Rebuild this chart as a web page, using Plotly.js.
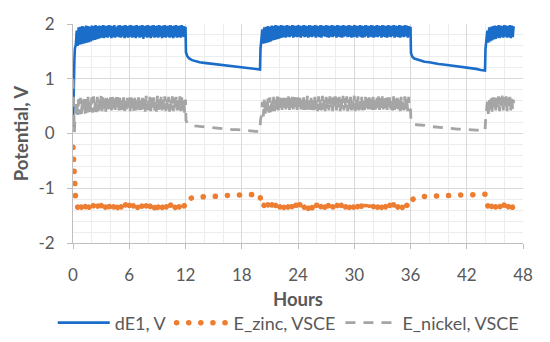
<!DOCTYPE html>
<html>
<head>
<meta charset="utf-8">
<script src="https://cdn.plot.ly/plotly-3.0.1.min.js"></script>
<style>
html,body{margin:0;padding:0;background:#fff;}
#chart{width:550px;height:342px;}
path.js-line[style*="rgb(237, 125, 49)"]{stroke-linecap:round;}
</style>
</head>
<body>
<div id="chart"></div>
<script>
// ---- Data (hours of test, potentials in V) ----
// Start-up of charge 1
const hoursStart1 = [0, 0.05, 0.1, 0.15, 0.2, 0.3];
const dE1Start1   = [0.12, 0.75, 1.05, 1.35, 1.55, 1.62];
const niStart1    = [1.0, 0.55, 0.05, 0.02, 0.25, 0.34];
const znStart1    = [-0.25, -0.4, -0.62, -0.9, -1.15, -1.27];

// Charge 1 (0.4 h - 12 h)
const hoursCharge1 = [
  0.4,0.5,0.6,0.7,0.8,0.9,
  1.0,1.1,1.2,1.3,1.4,1.5,1.6,1.7,1.8,1.9,
  2.0,2.1,2.2,2.3,2.4,2.5,2.6,2.7,2.8,2.9,
  3.0,3.1,3.2,3.3,3.4,3.5,3.6,3.7,3.8,3.9,
  4.0,4.1,4.2,4.3,4.4,4.5,4.6,4.7,4.8,4.9,
  5.0,5.1,5.2,5.3,5.4,5.5,5.6,5.7,5.8,5.9,
  6.0,6.1,6.2,6.3,6.4,6.5,6.6,6.7,6.8,6.9,
  7.0,7.1,7.2,7.3,7.4,7.5,7.6,7.7,7.8,7.9,
  8.0,8.1,8.2,8.3,8.4,8.5,8.6,8.7,8.8,8.9,
  9.0,9.1,9.2,9.3,9.4,9.5,9.6,9.7,9.8,9.9,
  10.0,10.1,10.2,10.3,10.4,10.5,10.6,10.7,10.8,10.9,
  11.0,11.1,11.2,11.3,11.4,11.5,11.6,11.7,11.8,11.9,
  12.0];
const dE1Charge1 = [
  1.88,1.60,1.94,1.62,1.95,1.63,
  1.96,1.64,1.95,1.65,1.97,1.66,1.96,1.67,1.95,1.68,
  1.97,1.70,1.96,1.71,1.98,1.72,1.96,1.73,1.97,1.74,
  1.96,1.75,1.98,1.74,1.97,1.76,1.96,1.75,1.98,1.77,
  1.97,1.74,1.96,1.76,1.98,1.75,1.95,1.77,1.97,1.76,
  1.98,1.75,1.96,1.77,1.97,1.74,1.98,1.76,1.96,1.75,
  1.97,1.77,1.98,1.75,1.96,1.76,1.97,1.74,1.98,1.77,
  1.96,1.75,1.97,1.76,1.98,1.73,1.96,1.77,1.97,1.75,
  1.98,1.76,1.96,1.74,1.97,1.77,1.98,1.75,1.96,1.76,
  1.97,1.75,1.98,1.77,1.96,1.74,1.97,1.76,1.98,1.75,
  1.96,1.77,1.97,1.75,1.98,1.76,1.96,1.74,1.97,1.77,
  1.98,1.75,1.96,1.76,1.97,1.75,1.98,1.77,1.96,1.76,
  1.95];
const niCharge1 = [
  0.60,0.34,0.63,0.35,0.65,0.36,
  0.64,0.37,0.66,0.36,0.63,0.38,0.67,0.37,0.65,0.39,
  0.66,0.38,0.68,0.40,0.64,0.39,0.67,0.41,0.65,0.40,
  0.69,0.41,0.66,0.42,0.68,0.40,0.65,0.43,0.70,0.41,
  0.66,0.42,0.68,0.40,0.65,0.43,0.67,0.41,0.69,0.42,
  0.65,0.40,0.68,0.43,0.66,0.41,0.67,0.44,0.65,0.42,
  0.68,0.41,0.66,0.43,0.69,0.40,0.65,0.42,0.67,0.44,
  0.66,0.41,0.68,0.43,0.65,0.42,0.67,0.40,0.69,0.43,
  0.65,0.42,0.67,0.41,0.68,0.44,0.66,0.42,0.65,0.40,
  0.69,0.43,0.66,0.41,0.67,0.42,0.65,0.44,0.68,0.41,
  0.66,0.43,0.67,0.40,0.65,0.42,0.68,0.41,0.66,0.43,
  0.67,0.42,0.65,0.40,0.68,0.41,0.66,0.39,0.65,0.38,
  0.62];
const znCharge1 = [
  -1.29,-1.35,-1.30,-1.36,-1.31,-1.35,
  -1.30,-1.36,-1.31,-1.35,-1.30,-1.37,-1.31,-1.35,-1.32,-1.36,
  -1.30,-1.35,-1.31,-1.36,-1.32,-1.35,-1.30,-1.37,-1.31,-1.36,
  -1.31,-1.35,-1.30,-1.36,-1.32,-1.37,-1.31,-1.35,-1.30,-1.36,
  -1.32,-1.35,-1.31,-1.36,-1.30,-1.35,-1.31,-1.37,-1.32,-1.36,
  -1.30,-1.36,-1.31,-1.35,-1.32,-1.36,-1.30,-1.35,-1.31,-1.37,
  -1.31,-1.35,-1.30,-1.36,-1.31,-1.35,-1.32,-1.36,-1.30,-1.35,
  -1.32,-1.37,-1.31,-1.35,-1.30,-1.36,-1.31,-1.35,-1.32,-1.36,
  -1.30,-1.35,-1.31,-1.36,-1.32,-1.35,-1.30,-1.36,-1.31,-1.37,
  -1.31,-1.36,-1.30,-1.35,-1.32,-1.36,-1.31,-1.35,-1.30,-1.36,
  -1.32,-1.35,-1.31,-1.36,-1.30,-1.35,-1.31,-1.36,-1.32,-1.35,
  -1.30,-1.36,-1.31,-1.35,-1.30,-1.34,-1.31,-1.34,-1.30,-1.33,
  -1.29];

// Rest 1 (12 h - 20 h)
const hoursRest1 = [12.05,12.2,12.4,12.7,13.0,13.5,14.0,14.5,15.0,15.5,16.0,16.5,17.0,17.5,18.0,18.5,19.0,19.5,19.95];
const dE1Rest1   = [1.48,1.41,1.37,1.34,1.32,1.30,1.29,1.28,1.27,1.26,1.25,1.24,1.23,1.22,1.21,1.20,1.19,1.18,1.17];
const niRest1    = [0.24,0.19,0.17,0.15,0.14,0.13,0.12,0.11,0.10,0.10,0.09,0.08,0.07,0.07,0.06,0.05,0.05,0.04,0.04];
const znRest1    = [-1.24,-1.21,-1.19,-1.17,-1.16,-1.16,-1.16,-1.16,-1.15,-1.14,-1.14,-1.13,-1.13,-1.13,-1.12,-1.12,-1.12,-1.11,-1.11];

// Start-up of charge 2
const hoursStart2 = [20.0, 20.1];
const dE1Start2   = [1.55, 1.68];
const niStart2    = [0.25, 0.33];
const znStart2    = [-1.20, -1.27];

// Charge 2 (20.2 h - 36 h)
const hoursCharge2 = [
  20.2,20.3,20.4,20.5,20.6,20.7,20.8,20.9,
  21.0,21.1,21.2,21.3,21.4,21.5,21.6,21.7,21.8,21.9,
  22.0,22.1,22.2,22.3,22.4,22.5,22.6,22.7,22.8,22.9,
  23.0,23.1,23.2,23.3,23.4,23.5,23.6,23.7,23.8,23.9,
  24.0,24.1,24.2,24.3,24.4,24.5,24.6,24.7,24.8,24.9,
  25.0,25.1,25.2,25.3,25.4,25.5,25.6,25.7,25.8,25.9,
  26.0,26.1,26.2,26.3,26.4,26.5,26.6,26.7,26.8,26.9,
  27.0,27.1,27.2,27.3,27.4,27.5,27.6,27.7,27.8,27.9,
  28.0,28.1,28.2,28.3,28.4,28.5,28.6,28.7,28.8,28.9,
  29.0,29.1,29.2,29.3,29.4,29.5,29.6,29.7,29.8,29.9,
  30.0,30.1,30.2,30.3,30.4,30.5,30.6,30.7,30.8,30.9,
  31.0,31.1,31.2,31.3,31.4,31.5,31.6,31.7,31.8,31.9,
  32.0,32.1,32.2,32.3,32.4,32.5,32.6,32.7,32.8,32.9,
  33.0,33.1,33.2,33.3,33.4,33.5,33.6,33.7,33.8,33.9,
  34.0,34.1,34.2,34.3,34.4,34.5,34.6,34.7,34.8,34.9,
  35.0,35.1,35.2,35.3,35.4,35.5,35.6,35.7,35.8,35.9,
  36.0];
const dE1Charge2 = [
  1.90,1.64,1.94,1.65,1.95,1.66,1.96,1.67,
  1.95,1.68,1.97,1.70,1.96,1.71,1.98,1.72,1.97,1.73,
  1.96,1.74,1.98,1.75,1.97,1.76,1.96,1.75,1.98,1.77,
  1.97,1.76,1.96,1.78,1.98,1.75,1.97,1.77,1.96,1.76,
  1.98,1.77,1.97,1.75,1.96,1.78,1.98,1.76,1.97,1.77,
  1.96,1.75,1.98,1.77,1.97,1.76,1.96,1.78,1.98,1.75,
  1.97,1.77,1.96,1.76,1.98,1.75,1.97,1.78,1.96,1.77,
  1.98,1.76,1.97,1.75,1.96,1.77,1.98,1.76,1.97,1.78,
  1.96,1.75,1.98,1.77,1.97,1.76,1.96,1.75,1.98,1.77,
  1.97,1.78,1.96,1.76,1.98,1.77,1.97,1.75,1.96,1.76,
  1.98,1.77,1.97,1.75,1.96,1.78,1.98,1.76,1.97,1.75,
  1.96,1.76,1.98,1.78,1.97,1.75,1.96,1.77,1.98,1.76,
  1.97,1.75,1.96,1.77,1.98,1.76,1.97,1.78,1.96,1.75,
  1.98,1.77,1.97,1.76,1.96,1.75,1.98,1.77,1.97,1.76,
  1.96,1.78,1.98,1.75,1.97,1.77,1.96,1.76,1.98,1.75,
  1.97,1.77,1.96,1.76,1.98,1.78,1.97,1.75,1.96,1.77,
  1.95];
const niCharge2 = [
  0.58,0.31,0.62,0.34,0.64,0.36,0.65,0.38,
  0.66,0.39,0.64,0.40,0.67,0.41,0.65,0.40,0.68,0.42,
  0.66,0.41,0.69,0.43,0.65,0.42,0.67,0.44,0.66,0.41,
  0.68,0.43,0.65,0.42,0.67,0.44,0.69,0.41,0.66,0.43,
  0.67,0.42,0.65,0.44,0.68,0.41,0.66,0.43,0.67,0.42,
  0.69,0.44,0.66,0.41,0.65,0.43,0.68,0.42,0.67,0.44,
  0.65,0.41,0.68,0.43,0.66,0.42,0.69,0.44,0.65,0.41,
  0.67,0.43,0.66,0.42,0.68,0.44,0.65,0.41,0.67,0.43,
  0.68,0.42,0.65,0.44,0.67,0.41,0.66,0.43,0.69,0.42,
  0.66,0.44,0.68,0.41,0.65,0.43,0.67,0.42,0.66,0.44,
  0.69,0.41,0.66,0.43,0.68,0.42,0.65,0.44,0.67,0.41,
  0.65,0.43,0.67,0.42,0.69,0.44,0.66,0.41,0.68,0.43,
  0.67,0.42,0.65,0.44,0.66,0.41,0.68,0.43,0.65,0.42,
  0.68,0.44,0.67,0.41,0.65,0.43,0.69,0.42,0.66,0.44,
  0.66,0.41,0.68,0.43,0.67,0.42,0.65,0.44,0.68,0.41,
  0.67,0.43,0.65,0.42,0.68,0.44,0.66,0.41,0.67,0.43,
  0.45];
const znCharge2 = [
  -1.29,-1.35,-1.30,-1.36,-1.31,-1.35,-1.30,-1.36,
  -1.31,-1.35,-1.30,-1.36,-1.32,-1.37,-1.31,-1.35,-1.30,-1.36,
  -1.32,-1.35,-1.31,-1.36,-1.30,-1.35,-1.31,-1.37,-1.32,-1.36,
  -1.30,-1.36,-1.31,-1.35,-1.32,-1.36,-1.30,-1.35,-1.31,-1.37,
  -1.31,-1.35,-1.30,-1.36,-1.31,-1.35,-1.32,-1.36,-1.30,-1.35,
  -1.32,-1.37,-1.31,-1.35,-1.30,-1.36,-1.31,-1.35,-1.32,-1.36,
  -1.30,-1.35,-1.31,-1.36,-1.32,-1.35,-1.30,-1.36,-1.31,-1.37,
  -1.31,-1.36,-1.30,-1.35,-1.32,-1.36,-1.31,-1.35,-1.30,-1.36,
  -1.32,-1.35,-1.31,-1.36,-1.30,-1.35,-1.31,-1.36,-1.32,-1.35,
  -1.30,-1.36,-1.31,-1.35,-1.30,-1.37,-1.31,-1.35,-1.32,-1.36,
  -1.30,-1.35,-1.31,-1.36,-1.32,-1.35,-1.30,-1.37,-1.31,-1.36,
  -1.31,-1.35,-1.30,-1.36,-1.32,-1.37,-1.31,-1.35,-1.30,-1.36,
  -1.32,-1.35,-1.31,-1.36,-1.30,-1.35,-1.31,-1.37,-1.32,-1.36,
  -1.30,-1.36,-1.31,-1.35,-1.32,-1.36,-1.30,-1.35,-1.31,-1.37,
  -1.31,-1.35,-1.30,-1.36,-1.31,-1.35,-1.32,-1.36,-1.30,-1.35,
  -1.32,-1.36,-1.31,-1.35,-1.30,-1.34,-1.31,-1.33,-1.30,-1.32,
  -1.28];

// Rest 2 (36 h - 44 h)
const hoursRest2 = [36.05,36.2,36.4,36.7,37.0,37.5,38.0,38.5,39.0,39.5,40.0,40.5,41.0,41.5,42.0,42.5,43.0,43.5,43.95];
const dE1Rest2   = [1.47,1.40,1.37,1.35,1.33,1.31,1.30,1.28,1.27,1.26,1.25,1.24,1.23,1.22,1.20,1.19,1.18,1.16,1.15];
const niRest2    = [0.22,0.19,0.17,0.16,0.16,0.15,0.13,0.12,0.11,0.10,0.10,0.09,0.08,0.08,0.07,0.07,0.06,0.06,0.05];
const znRest2    = [-1.25,-1.21,-1.18,-1.16,-1.15,-1.15,-1.14,-1.14,-1.14,-1.14,-1.13,-1.13,-1.13,-1.12,-1.12,-1.12,-1.11,-1.11,-1.11];

// Start-up of charge 3
const hoursStart3 = [44.0, 44.1];
const dE1Start3   = [1.55, 1.70];
const niStart3    = [0.22, 0.35];
const znStart3    = [-1.20, -1.27];

// Charge 3 (44.2 h - 47 h)
const hoursCharge3 = [
  44.2,44.3,44.4,44.5,44.6,44.7,44.8,44.9,
  45.0,45.1,45.2,45.3,45.4,45.5,45.6,45.7,45.8,45.9,
  46.0,46.1,46.2,46.3,46.4,46.5,46.6,46.7,46.8,46.9,
  47.0];
const dE1Charge3 = [
  1.88,1.66,1.94,1.68,1.95,1.70,1.96,1.72,
  1.97,1.73,1.96,1.75,1.98,1.74,1.97,1.76,1.96,1.75,
  1.98,1.77,1.97,1.75,1.96,1.76,1.98,1.74,1.97,1.76,
  1.96];
const niCharge3 = [
  0.58,0.36,0.62,0.38,0.64,0.40,0.66,0.41,
  0.67,0.42,0.65,0.43,0.68,0.41,0.66,0.44,0.69,0.42,
  0.66,0.43,0.68,0.41,0.65,0.44,0.67,0.42,0.66,0.43,
  0.62];
const znCharge3 = [
  -1.29,-1.35,-1.30,-1.36,-1.31,-1.35,-1.30,-1.36,
  -1.31,-1.35,-1.32,-1.36,-1.30,-1.35,-1.31,-1.37,-1.32,-1.35,
  -1.30,-1.36,-1.31,-1.35,-1.32,-1.36,-1.30,-1.35,-1.31,-1.36,
  -1.32];

const seriesNames = ['dE1, V', 'E_zinc, VSCE', 'E_nickel, VSCE'];
const xTickVals = [0, 6, 12, 18, 24, 30, 36, 42, 48];
const yTickVals = [-2, -1, 0, 1, 2];

// ---- Assemble ----
const hours = [].concat(hoursStart1, hoursCharge1, hoursRest1, hoursStart2, hoursCharge2, hoursRest2, hoursStart3, hoursCharge3);
const dE1 = [].concat(dE1Start1, dE1Charge1, dE1Rest1, dE1Start2, dE1Charge2, dE1Rest2, dE1Start3, dE1Charge3);
const eZinc = [].concat(znStart1, znCharge1, znRest1, znStart2, znCharge2, znRest2, znStart3, znCharge3);
const eNickel = [].concat(niStart1, niCharge1, niRest1, niStart2, niCharge2, niRest2, niStart3, niCharge3);

const FONT = 'Lato, "Open Sans", sans-serif';
const TXT = '#595959';

const traces = [
  {x: hours, y: dE1, name: seriesNames[0], type: 'scatter', mode: 'lines',
   line: {color: '#1a6ec9', width: 2.6}},
  {x: hours, y: eZinc, name: seriesNames[1], type: 'scatter', mode: 'lines',
   line: {color: '#ED7D31', width: 5.5, dash: '0.1px,12px'}},
  {x: hours, y: eNickel, name: seriesNames[2], type: 'scatter', mode: 'lines',
   line: {color: '#A5A5A5', width: 2.8, dash: '10px,8px'}}
];

const layout = {
  width: 550, height: 342,
  margin: {l: 73, r: 27, t: 24, b: 99, autoexpand: false},
  paper_bgcolor: '#ffffff', plot_bgcolor: '#ffffff',
  font: {family: FONT, color: TXT, size: 16},
  showlegend: true,
  legend: {orientation: 'h', x: -0.045, xanchor: 'left', y: -0.365, yanchor: 'middle',
           font: {family: FONT, size: 18, color: TXT}, itemwidth: 52, bgcolor: 'rgba(0,0,0,0)'},
  xaxis: {
    range: [0, 48], tickmode: 'array', tickvals: xTickVals, ticktext: xTickVals.map(String),
    ticks: 'outside', ticklen: 5, tickcolor: '#bfbfbf', tickwidth: 1,
    showline: true, linecolor: '#bfbfbf', linewidth: 1,
    showgrid: true, gridcolor: '#d9d9d9', gridwidth: 1, zeroline: false,
    minor: {dtick: 2, tick0: 0, showgrid: true, gridcolor: '#ededed', gridwidth: 1, ticks: ''},
    tickfont: {family: FONT, size: 17, color: TXT},
    ticklabelstandoff: 12, automargin: false,
    title: {text: 'Hours', font: {family: FONT, size: 18.5, color: TXT, weight: 'bold'}, standoff: 8}
  },
  yaxis: {
    range: [-2, 2], tickmode: 'array', tickvals: yTickVals, ticktext: yTickVals.map(String),
    ticks: 'outside', ticklen: 5, tickcolor: '#bfbfbf', tickwidth: 1,
    showline: true, linecolor: '#bfbfbf', linewidth: 1,
    showgrid: true, gridcolor: '#d9d9d9', gridwidth: 1, zeroline: false,
    minor: {dtick: 0.2, tick0: 0, showgrid: true, gridcolor: '#ededed', gridwidth: 1, ticks: ''},
    tickfont: {family: FONT, size: 17, color: TXT},
    ticklabelstandoff: 9, automargin: false,
    title: {text: 'Potential, V', font: {family: FONT, size: 18.5, color: TXT, weight: 'bold'}, standoff: 4}
  }
};

Plotly.newPlot('chart', traces, layout, {staticPlot: true, displayModeBar: false});
</script>
</body>
</html>
